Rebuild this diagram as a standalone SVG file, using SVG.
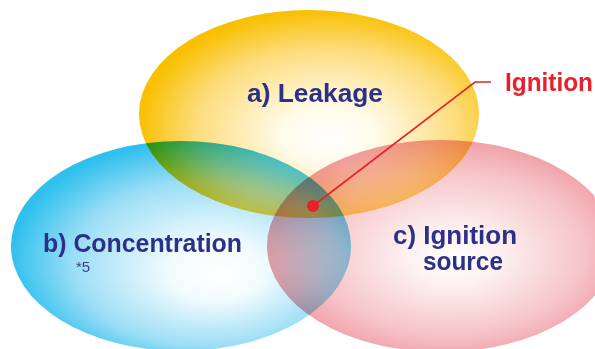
<svg xmlns="http://www.w3.org/2000/svg" width="595" height="349" viewBox="0 0 595 349">
<defs>
<radialGradient id="gY" cx="0.55" cy="0.55" r="0.55" fx="0.56" fy="0.62">
<stop offset="0" stop-color="#ffffff"/>
<stop offset="0.25" stop-color="#fffbea"/>
<stop offset="0.7" stop-color="#fddc7c"/>
<stop offset="1" stop-color="#f8c000"/>
</radialGradient>
<radialGradient id="gB" cx="0.56" cy="0.56" r="0.56" fx="0.62" fy="0.64">
<stop offset="0" stop-color="#ffffff"/>
<stop offset="0.25" stop-color="#f2fbfe"/>
<stop offset="0.7" stop-color="#9cdef6"/>
<stop offset="1" stop-color="#30c0ee"/>
</radialGradient>
<radialGradient id="gP" cx="0.52" cy="0.52" r="0.55" fx="0.54" fy="0.56">
<stop offset="0" stop-color="#ffffff"/>
<stop offset="0.25" stop-color="#fdf0f0"/>
<stop offset="0.7" stop-color="#f6c4c8"/>
<stop offset="1" stop-color="#ee98a0"/>
</radialGradient>
</defs>
<style>
.blob{mix-blend-mode:multiply}
.lbl{font-family:"Liberation Sans",Arial,sans-serif;font-weight:bold;font-size:25px;fill:#2b3088}
.note{font-family:"Liberation Sans",Arial,sans-serif;font-size:15px;fill:#3a3f8f}
.red{font-family:"Liberation Sans",Arial,sans-serif;font-weight:bold;font-size:25px;fill:#e8202a}
</style>
<rect width="595" height="349" fill="#ffffff"/>
<g id="leakage">
<ellipse class="blob" cx="309" cy="114" rx="170" ry="104" fill="url(#gY)"/>
</g>
<g id="concentration">
<ellipse class="blob" cx="181" cy="246" rx="170" ry="105" fill="url(#gB)"/>
</g>
<g id="ignition-source">
<ellipse class="blob" cx="441" cy="246" rx="174" ry="106" fill="url(#gP)"/>
</g>
<g id="connectors">
<polyline points="491,82 475,82 313,206" fill="none" stroke="#e8202a" stroke-width="1.6"/>
<circle cx="313" cy="206" r="6" fill="#e8202a"/>
</g>
<g id="labels">
<text class="lbl" x="247" y="102" textLength="136" lengthAdjust="spacingAndGlyphs">a) Leakage</text>
<text class="lbl" x="43" y="252" textLength="199" lengthAdjust="spacingAndGlyphs">b) Concentration</text>
<text class="note" x="76" y="272">*5</text>
<text class="lbl" x="393" y="244" textLength="124" lengthAdjust="spacingAndGlyphs">c) Ignition</text>
<text class="lbl" x="423" y="270" textLength="80" lengthAdjust="spacingAndGlyphs">source</text>
<text class="red" x="505" y="91" textLength="88" lengthAdjust="spacingAndGlyphs">Ignition</text>
</g>
</svg>
